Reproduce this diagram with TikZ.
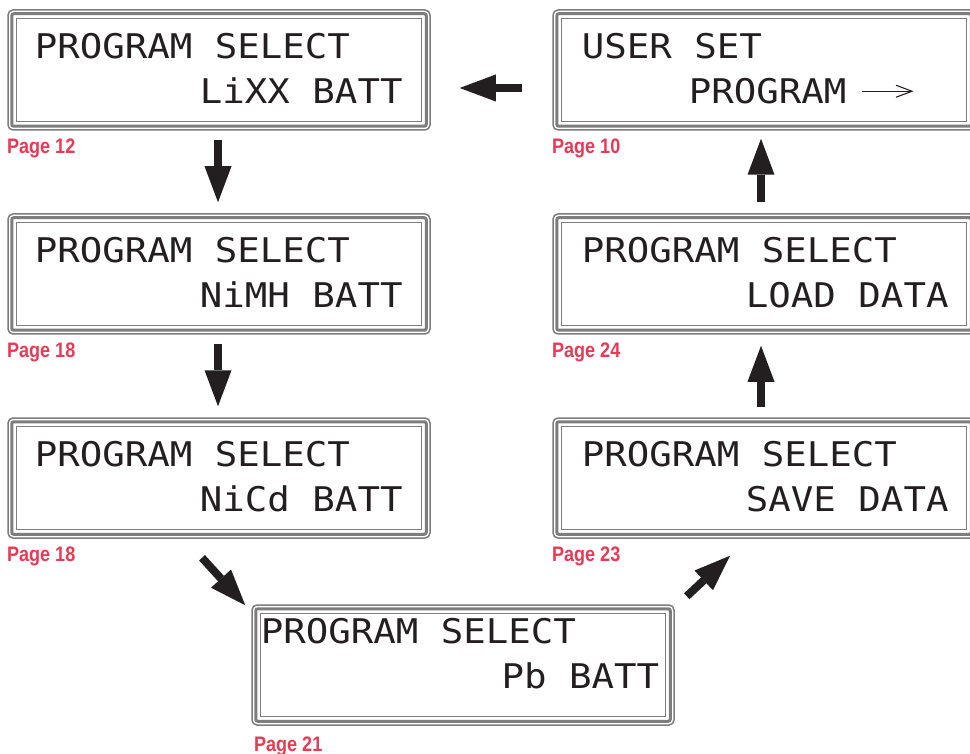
\documentclass[tikz,border=0pt]{standalone}
\usepackage{fontspec}
\usetikzlibrary{arrows.meta}
\newfontfamily\lcdfont[FakeStretch=1.1]{DejaVu Sans Mono}
\newfontfamily\pagefont[FakeStretch=0.86]{Liberation Sans}
\definecolor{lcdgray}{RGB}{125,125,125}
\definecolor{lcdink}{RGB}{35,31,32}
\definecolor{pagered}{RGB}{232,58,84}
\tikzset{
  lcd/.style={draw=lcdgray, line width=1.5pt, rounded corners=5pt, minimum width=422pt, minimum height=120pt, inner sep=0pt},
  band/.style={draw=lcdgray, line width=3pt, rounded corners=2pt},
  rim/.style={draw=lcdgray, line width=1.2pt},
  topline/.style={font=\lcdfont\fontsize{34}{34}\selectfont, text=lcdink, anchor=base west, inner sep=0pt},
  botline/.style={topline, anchor=base east},
  pagelabel/.style={font=\pagefont\bfseries\fontsize{21}{21}\selectfont, text=pagered, anchor=base west, inner sep=0pt},
  bigarrow/.style={draw=lcdink, line width=8pt, -{Triangle[length=36pt, width=27pt, line width=0pt]}},
  thinarrow/.style={draw=lcdink, line width=1.1pt, -{Straight Barb[length=16pt, width=12pt, line width=1.1pt]}},
}
\begin{document}
\begin{tikzpicture}[x=1pt, y=-1pt]
  \clip (0,0) rectangle (970,754);
  % displays
  \node[lcd] (lixx) at (219,70) {};
  \node[lcd] (nimh) at (219,274) {};
  \node[lcd] (nicd) at (219,478) {};
  \node[lcd] (pb) at (463,665) {};
  \node[lcd] (save) at (764,478) {};
  \node[lcd] (load) at (764,274) {};
  \node[lcd] (user) at (764,70) {};
  \foreach \b in {lixx,nimh,nicd,pb,save,load,user}{
    \draw[band] ([shift={(4.5,4.5)}]\b.north west) rectangle ([shift={(-4.5,-4.5)}]\b.south east);
    \draw[rim] ([shift={(9,9)}]\b.north west) rectangle ([shift={(-9,-9)}]\b.south east);
  }
  % display texts
  \node[topline] (lixx-1) at ([shift={(27.3,49.5)}]lixx.north west) {PROGRAM SELECT};
  \node[botline] (lixx-2) at ([shift={(-28,94)}]lixx.north east) {LiXX BATT};
  \node[topline] (nimh-1) at ([shift={(27.3,49.5)}]nimh.north west) {PROGRAM SELECT};
  \node[botline] (nimh-2) at ([shift={(-28,94)}]nimh.north east) {NiMH BATT};
  \node[topline] (nicd-1) at ([shift={(27.3,49.5)}]nicd.north west) {PROGRAM SELECT};
  \node[botline] (nicd-2) at ([shift={(-28,94)}]nicd.north east) {NiCd BATT};
  \node[topline] (pb-1) at ([shift={(9.3,39)}]pb.north west) {PROGRAM SELECT};
  \node[botline] (pb-2) at ([shift={(-15.4,84)}]pb.north east) {Pb BATT};
  \node[topline] (save-1) at ([shift={(29.3,49.5)}]save.north west) {PROGRAM SELECT};
  \node[botline] (save-2) at ([shift={(-27,94)}]save.north east) {SAVE DATA};
  \node[topline] (load-1) at ([shift={(29.3,49.5)}]load.north west) {PROGRAM SELECT};
  \node[botline] (load-2) at ([shift={(-27,94)}]load.north east) {LOAD DATA};
  \node[topline] (user-1) at ([shift={(29.3,49.5)}]user.north west) {USER SET};
  \node[topline] (user-2) at ([shift={(136.3,94)}]user.north west) {PROGRAM};
  \coordinate (user-go) at ([shift={(15,-12)}]user-2.base east);
  \draw[thinarrow] (user-go) -- ++(52,0);
  % page references
  \node[pagelabel] (lixx-p) at ([shift={(-0.4,22.5)}]lixx.south west) {Page 12};
  \node[pagelabel] (nimh-p) at ([shift={(-0.4,22.5)}]nimh.south west) {Page 18};
  \node[pagelabel] (nicd-p) at ([shift={(-0.4,22.5)}]nicd.south west) {Page 18};
  \node[pagelabel] (pb-p) at ([shift={(2.6,25.7)}]pb.south west) {Page 21};
  \node[pagelabel] (save-p) at ([shift={(-0.4,22.5)}]save.south west) {Page 23};
  \node[pagelabel] (load-p) at ([shift={(-0.4,22.5)}]load.south west) {Page 24};
  \node[pagelabel] (user-p) at ([shift={(-0.4,22.5)}]user.south west) {Page 10};
  % arrows
  \draw[bigarrow, shorten <=9pt, shorten >=11pt] ([xshift=-1pt]lixx.south) -- ([xshift=-1pt]nimh.north);
  \draw[bigarrow, shorten <=9pt, shorten >=11pt] ([xshift=-1pt]nimh.south) -- ([xshift=-1pt]nicd.north);
  \draw[bigarrow] ([shift={(-17,19)}]nicd.south) -- ([shift={(-6,1)}]pb.north west);
  \draw[bigarrow] ([shift={(12,-8)}]pb.north east) -- ([shift={(-34,17)}]save.south);
  \draw[bigarrow, shorten <=10pt, shorten >=11pt] ([xshift=-3pt]save.north) -- ([xshift=-3pt]load.south);
  \draw[bigarrow, shorten <=11pt, shorten >=8pt] ([xshift=-3pt]load.north) -- ([xshift=-3pt]user.south);
  \draw[bigarrow, shorten <=30pt, shorten >=29pt] ([shift={(0,18)}]user.west) -- ([shift={(0,18)}]lixx.east);
\end{tikzpicture}
\end{document}
